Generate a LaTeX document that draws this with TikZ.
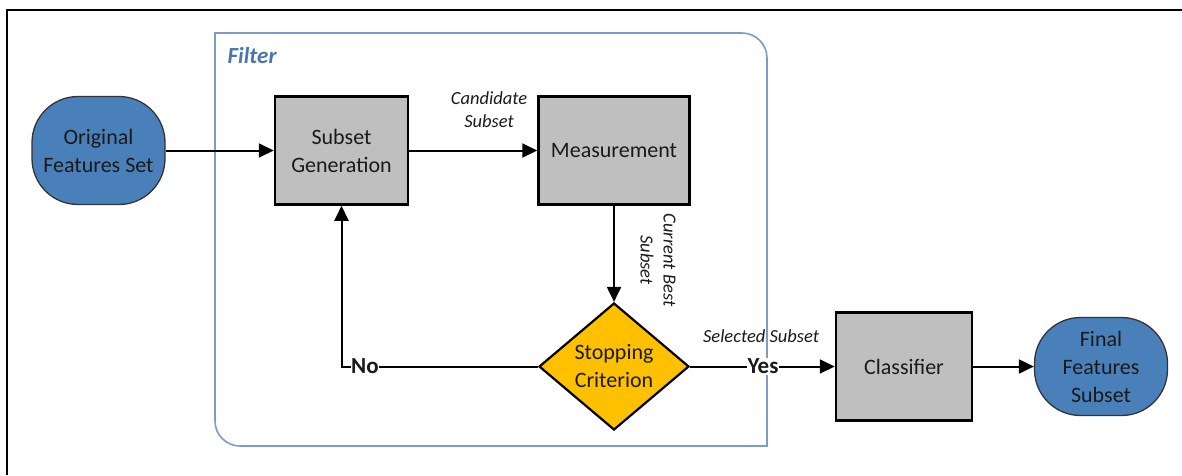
\documentclass[tikz,border=0pt]{standalone}
\usepackage{fontspec}
\setmainfont{Carlito}
\usetikzlibrary{arrows.meta,shapes.geometric}
\definecolor{ovalblue}{HTML}{4A80BA}
\definecolor{boxgray}{HTML}{BFBFBF}
\definecolor{diaorange}{HTML}{FFC000}
\definecolor{filterline}{HTML}{7C9CC4}
\definecolor{filtertext}{HTML}{4A76AC}
\definecolor{txt}{HTML}{1A1A1A}
\tikzset{
  oval/.style={draw=black!80, line width=1.3pt, fill=ovalblue, rounded corners=46pt,
    minimum width=133pt, align=center, text=txt, font=\fontsize{22}{28}\selectfont},
  grbox/.style={draw=black, line width=2.5pt, fill=boxgray, minimum height=108pt,
    align=center, text=txt, font=\fontsize{22}{28}\selectfont},
  decide/.style={diamond, draw=black, line width=2.2pt, fill=diaorange, minimum width=150pt,
    minimum height=127pt, inner sep=0pt, align=center, text=txt, font=\fontsize{22}{28}\selectfont},
  conn/.style={line width=2pt, -{Triangle[length=15pt,width=14pt]}},
  lab/.style={font=\fontsize{18.5}{23}\selectfont\itshape, align=center, text=txt, inner sep=1pt},
  yn/.style={font=\fontsize{23}{24}\selectfont\bfseries, fill=white, inner sep=0.5pt, text=txt},
}
\begin{document}
\begin{tikzpicture}[x=1pt,y=-1pt]
\useasboundingbox (0,0) rectangle (1182,475);
% outer frame
\draw[line width=2.5pt] (7,475) -- (7,10) -- (1182,10);
% filter box
\draw[filterline, line width=1.6pt] (215,33) -- (742,33) arc[start angle=-90,end angle=0,radius=25]
  -- (767,446) -- (240,446) arc[start angle=90,end angle=180,radius=25] -- cycle;
\node[font=\fontsize{23}{26}\selectfont\bfseries\itshape, text=filtertext, anchor=west] (filt) at (224,56) {Filter};
% nodes
\node[oval, minimum height=108pt] (orig) at (98.5,150.5) {Original\\Features Set};
\node[grbox, minimum width=133pt] (gen) at (341.5,150.5) {Subset\\Generation};
\node[grbox, minimum width=151pt] (meas) at (614,150.5) {Measurement};
\node[decide] (stop) at (614,366.5) {Stopping\\Criterion};
\node[grbox, minimum width=136pt] (cls) at (904,366.5) {Classifier};
\node[oval, minimum height=98pt] (fin) at (1101,366.5) {Final\\Features\\Subset};
% connectors
\draw[conn] (orig.east) -- (gen.west);
\draw[conn] (gen.east) -- (meas.west);
\draw[conn] (meas.south) -- (stop.north);
\coordinate (corner) at (341.5,366.5);
\draw[conn] (stop.west) -- (corner) -- (gen.south);
\draw[conn] (stop.east) -- (cls.west);
\draw[conn] (cls.east) -- (fin.west);
% labels
\node[lab] (cand) at (489,110) {Candidate\\Subset};
\node[lab, rotate=-90] (cur) at (658,260) {Current Best\\Subset};
\node[lab] (sel) at (761,336) {Selected Subset};
\node[yn] (no) at (365,366.5) {No};
\node[yn] (yes) at (763,366.5) {Yes};
\end{tikzpicture}
\end{document}
